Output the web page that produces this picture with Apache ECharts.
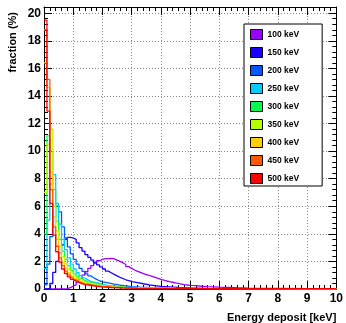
<!DOCTYPE html>
<html>
<head>
<meta charset="utf-8">
<script src="https://cdn.jsdelivr.net/npm/echarts@6/dist/echarts.min.js"></script>
<style>
  html, body { margin: 0; padding: 0; background: #fff; }
  #chart { width: 346px; height: 323px; }
</style>
</head>
<body>
<div id="chart"></div>
<script>
// beam energies and their histogram colours
const energies = ['100 keV', '150 keV', '200 keV', '250 keV', '300 keV', '350 keV', '400 keV', '450 keV', '500 keV'];
const colors = ['#9900ff', '#1a00ff', '#0059ff', '#00ccff', '#00ff4c', '#b3ff00', '#ffd000', '#ff5900', '#ff0000'];

// [bin low edge (keV), fraction (%)]
const e100 = [[0,0],[0.7,0.03],[0.8,0.1],[0.9,0.2],[1.0,0.3],[1.1,0.5],[1.2,0.75],[1.3,1.0],[1.4,1.25],[1.5,1.5],[1.6,1.7],[1.7,1.9],[1.8,2.05],[1.9,2.15],[2.0,2.2],[2.1,2.2],[2.2,2.22],[2.3,2.18],[2.4,2.1],[2.5,2.0],[2.6,1.9],[2.7,1.78],[2.8,1.62],[2.9,1.5],[3.0,1.38],[3.1,1.28],[3.2,1.2],[3.3,1.12],[3.4,1.05],[3.5,0.98],[3.6,0.92],[3.7,0.85],[3.8,0.77],[3.9,0.7],[4.0,0.64],[4.1,0.58],[4.2,0.53],[4.3,0.49],[4.4,0.44],[4.5,0.4],[4.6,0.36],[4.7,0.32],[4.8,0.29],[4.9,0.26],[5.0,0.24],[5.2,0.2],[5.4,0.17],[5.6,0.15],[5.8,0.13],[6.0,0.11],[6.3,0.09],[6.6,0.07],[7.0,0.05],[7.5,0.04],[8.0,0.03],[9.0,0.02],[10,0.01]];
const e150 = [[0,0],[0.1,0.05],[0.2,0.4],[0.3,1.2],[0.4,2.0],[0.5,2.6],[0.6,3.2],[0.7,3.6],[0.8,3.75],[0.9,3.7],[1.0,3.6],[1.1,3.35],[1.2,3.0],[1.3,2.75],[1.4,2.5],[1.5,2.3],[1.6,2.1],[1.7,1.9],[1.8,1.75],[1.9,1.6],[2.0,1.45],[2.1,1.3],[2.2,1.18],[2.3,1.06],[2.4,0.95],[2.5,0.85],[2.6,0.76],[2.7,0.67],[2.8,0.6],[2.9,0.53],[3.0,0.47],[3.2,0.38],[3.4,0.3],[3.6,0.24],[3.8,0.19],[4.0,0.15],[4.3,0.11],[4.6,0.08],[5.0,0.05],[5.5,0.03],[6.5,0.02],[8,0.01],[10,0.01]];
const e200 = [[0,0.3],[0.1,1.8],[0.2,3.8],[0.3,5.2],[0.4,6.0],[0.5,5.6],[0.6,4.5],[0.7,3.7],[0.8,3.05],[0.9,2.55],[1.0,2.15],[1.1,1.8],[1.2,1.5],[1.3,1.28],[1.4,1.1],[1.5,0.95],[1.6,0.82],[1.7,0.7],[1.8,0.6],[1.9,0.52],[2.0,0.45],[2.2,0.36],[2.4,0.28],[2.6,0.22],[2.8,0.17],[3.0,0.13],[3.3,0.1],[3.7,0.07],[4.2,0.04],[5,0.02],[7,0.01],[10,0.01]];
const e250 = [[0,1.5],[0.1,5.0],[0.2,7.6],[0.3,8.3],[0.4,6.2],[0.5,4.7],[0.6,3.6],[0.7,2.85],[0.8,2.25],[0.9,1.8],[1.0,1.45],[1.1,1.18],[1.2,0.97],[1.3,0.8],[1.4,0.66],[1.5,0.55],[1.6,0.46],[1.8,0.34],[2.0,0.25],[2.2,0.19],[2.5,0.13],[2.8,0.09],[3.2,0.06],[4,0.03],[6,0.01],[10,0.01]];
const e300 = [[0,4.0],[0.1,11.1],[0.2,10.0],[0.3,7.2],[0.4,4.9],[0.5,3.6],[0.6,2.75],[0.7,2.15],[0.8,1.7],[0.9,1.35],[1.0,1.1],[1.1,0.9],[1.2,0.74],[1.3,0.62],[1.4,0.52],[1.5,0.44],[1.7,0.32],[1.9,0.24],[2.1,0.18],[2.4,0.12],[2.8,0.08],[3.3,0.05],[4.5,0.02],[10,0.01]];
const e350 = [[0,7.0],[0.1,10.5],[0.2,11.6],[0.3,6.0],[0.4,4.2],[0.5,3.1],[0.6,2.35],[0.7,1.82],[0.8,1.45],[0.9,1.16],[1.0,0.94],[1.1,0.77],[1.2,0.64],[1.3,0.53],[1.4,0.45],[1.5,0.38],[1.7,0.28],[1.9,0.21],[2.1,0.16],[2.4,0.11],[2.8,0.07],[3.3,0.04],[4.5,0.02],[10,0.01]];
const e400 = [[0,16.4],[0.1,14.6],[0.2,8.5],[0.3,5.2],[0.4,3.6],[0.5,2.6],[0.6,1.95],[0.7,1.5],[0.8,1.18],[0.9,0.94],[1.0,0.76],[1.1,0.62],[1.2,0.51],[1.3,0.43],[1.4,0.36],[1.6,0.27],[1.8,0.2],[2.0,0.15],[2.3,0.1],[2.7,0.07],[3.2,0.04],[4.5,0.02],[10,0.01]];
const e450 = [[0,18.8],[0.1,15.2],[0.2,7.2],[0.3,4.5],[0.4,3.1],[0.5,2.25],[0.6,1.7],[0.7,1.3],[0.8,1.02],[0.9,0.82],[1.0,0.66],[1.1,0.54],[1.2,0.45],[1.3,0.37],[1.4,0.31],[1.6,0.23],[1.8,0.17],[2.0,0.13],[2.3,0.09],[2.7,0.06],[3.2,0.04],[4.5,0.02],[10,0.01]];
const e500 = [[0,19.5],[0.1,12.9],[0.2,6.2],[0.3,3.9],[0.4,2.7],[0.5,1.95],[0.6,1.45],[0.7,1.12],[0.8,0.88],[0.9,0.7],[1.0,0.57],[1.1,0.47],[1.2,0.39],[1.3,0.32],[1.4,0.27],[1.6,0.2],[1.8,0.15],[2.0,0.11],[2.3,0.08],[2.7,0.05],[3.2,0.03],[4.5,0.02],[10,0.01]];

const histos = [e100, e150, e200, e250, e300, e350, e400, e450, e500];

const font = 'Liberation Sans, Arial, Helvetica, sans-serif';
const chart = echarts.init(document.getElementById('chart'), null, { renderer: 'canvas' });

const gridLine = { show: true, lineStyle: { color: '#888', type: [1, 2], width: 1 } };
const frameLine = { show: true, onZero: false, lineStyle: { color: '#000', width: 1 } };
const majorTick = { show: true, inside: true, length: 8, lineStyle: { color: '#000' } };
const minorTick = { show: true, splitNumber: 5, length: 4, lineStyle: { color: '#000' } };
const tickFont = { fontFamily: font, fontWeight: 'bold', fontSize: 12, color: '#000' };

const option = {
    animation: false,
    backgroundColor: '#fff',
    grid: { left: 44, right: 7, top: 7, bottom: 34 },
    legend: {
        data: energies,
        orient: 'vertical',
        left: 244,
        top: 24,
        padding: [5, 23, 2, 6],
        itemWidth: 12,
        itemHeight: 10,
        itemGap: 7,
        icon: 'rect',
        backgroundColor: '#fff',
        borderColor: '#000',
        borderWidth: 1,
        borderRadius: 0,
        itemStyle: { borderColor: '#000', borderWidth: 1 },
        textStyle: { fontFamily: font, fontWeight: 'bold', fontSize: 8.5, color: '#000' },
    },
    xAxis: [
        {
            type: 'value',
            min: 0,
            max: 10,
            interval: 1,
            name: 'Energy deposit [keV]',
            nameLocation: 'end',
            nameGap: 0,
            nameTextStyle: { ...tickFont, fontSize: 11, align: 'right', verticalAlign: 'top', padding: [23, 0, 0, 0] },
            axisLine: frameLine,
            axisTick: majorTick,
            minorTick: minorTick,
            axisLabel: { ...tickFont, margin: 4 },
            splitLine: gridLine,
        },
        {
            type: 'value',
            position: 'top',
            min: 0,
            max: 10,
            interval: 1,
            axisLine: frameLine,
            axisTick: majorTick,
            minorTick: minorTick,
            axisLabel: { show: false },
            splitLine: { show: false },
        },
    ],
    yAxis: [
        {
            type: 'value',
            min: 0,
            max: 20.45,
            interval: 2,
            name: 'fraction (%)',
            nameLocation: 'end',
            nameRotate: 90,
            nameGap: -5,
            nameTextStyle: { ...tickFont, fontSize: 11, align: 'right', verticalAlign: 'bottom', padding: [0, 0, 26, 0] },
            axisLine: frameLine,
            axisTick: majorTick,
            minorTick: minorTick,
            axisLabel: { ...tickFont, margin: 3, showMaxLabel: false },
            splitLine: gridLine,
        },
        {
            type: 'value',
            position: 'right',
            min: 0,
            max: 20.45,
            interval: 2,
            axisLine: frameLine,
            axisTick: majorTick,
            minorTick: minorTick,
            axisLabel: { show: false },
            splitLine: { show: false },
        },
    ],
    series: histos.map((d, i) => ({
        type: 'line',
        name: energies[i],
        data: d,
        step: 'end',
        symbol: 'none',
        showSymbol: false,
        silent: true,
        xAxisIndex: 0,
        yAxisIndex: 0,
        itemStyle: { color: colors[i] },
        lineStyle: { color: colors[i], width: 1.3 },
    })),
};

chart.setOption(option);
</script>
</body>
</html>
